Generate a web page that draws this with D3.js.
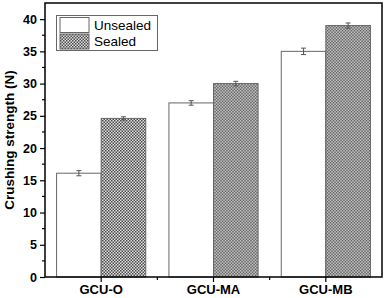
<!DOCTYPE html>
<html>
<head>
<meta charset="utf-8">
<script src="https://cdn.jsdelivr.net/npm/d3@7"></script>
<style>
  body { margin: 0; background: #fff; }
  svg { font-family: "Liberation Sans", Arial, sans-serif; }
</style>
</head>
<body>
<svg id="chart" width="387" height="298"></svg>
<script>
var categories = ["GCU-O", "GCU-MA", "GCU-MB"];
var seriesNames = ["Unsealed", "Sealed"];
var unsealed = [16.1, 27.0, 35.0];
var sealed = [24.6, 30.0, 39.0];
var unsealedErr = [0.4, 0.35, 0.5];
var sealedErr = [0.25, 0.35, 0.4];
var yTicks = [0, 5, 10, 15, 20, 25, 30, 35, 40];

var svg = d3.select("#chart");
var padding = { top: 3, right: 5, bottom: 21, left: 45 };
var width = +svg.attr("width");
var height = +svg.attr("height");

var rows = categories.map((c, i) => ({
  cat: c,
  values: [
    { key: "Unsealed", value: unsealed[i], err: unsealedErr[i] },
    { key: "Sealed", value: sealed[i], err: sealedErr[i] }
  ]
}));

// checker pattern for the sealed bars
var defs = svg.append("defs");
var pat = defs.append("pattern")
    .attr("id", "checker")
    .attr("width", 3)
    .attr("height", 3)
    .attr("patternUnits", "userSpaceOnUse");
pat.append("rect").attr("width", 3).attr("height", 3).attr("fill", "#dcdcdc");
pat.append("rect").attr("x", 0).attr("y", 0).attr("width", 1.5).attr("height", 1.5).attr("fill", "#4d4d4d");
pat.append("rect").attr("x", 1.5).attr("y", 1.5).attr("width", 1.5).attr("height", 1.5).attr("fill", "#4d4d4d");

var x0 = d3.scaleBand()
    .domain(categories)
    .range([padding.left, width - padding.right]);

var x1 = d3.scaleBand()
    .domain(seriesNames)
    .range([0, x0.bandwidth()])
    .paddingOuter(0.26)
    .paddingInner(0);

var yScale = d3.scaleLinear()
    .domain([0, 42.5])
    .range([height - padding.bottom, padding.top]);

var fills = { Unsealed: "#fff", Sealed: "url(#checker)" };

// bars
var groups = svg.selectAll(".group")
  .data(rows)
  .enter()
  .append("g")
    .attr("transform", d => "translate(" + x0(d.cat) + ",0)");

groups.selectAll("rect")
  .data(d => d.values)
  .enter()
  .append("rect")
    .attr("x", d => x1(d.key))
    .attr("y", d => yScale(d.value))
    .attr("width", x1.bandwidth())
    .attr("height", d => yScale(0) - yScale(d.value))
    .attr("fill", d => fills[d.key])
    .attr("stroke", "#666")
    .attr("stroke-width", 1);

// error bars
var eb = groups.selectAll(".err")
  .data(d => d.values)
  .enter()
  .append("g")
    .attr("stroke", "#555")
    .attr("stroke-width", 1);
eb.append("line")
    .attr("x1", d => x1(d.key) + x1.bandwidth() / 2)
    .attr("x2", d => x1(d.key) + x1.bandwidth() / 2)
    .attr("y1", d => yScale(d.value - d.err))
    .attr("y2", d => yScale(d.value + d.err));
[-1, 1].forEach(function(s) {
  eb.append("line")
      .attr("x1", d => x1(d.key) + x1.bandwidth() / 2 - 2.5)
      .attr("x2", d => x1(d.key) + x1.bandwidth() / 2 + 2.5)
      .attr("y1", d => yScale(d.value + s * d.err))
      .attr("y2", d => yScale(d.value + s * d.err));
});

// y axis
var yAxis = d3.axisLeft(yScale)
    .tickValues(yTicks)
    .tickSize(5)
    .tickPadding(3);
var gy = svg.append("g")
    .attr("transform", "translate(" + padding.left + ",0)")
    .call(yAxis);
gy.select(".domain").remove();
gy.selectAll("line").attr("stroke", "#000").attr("stroke-width", 1.2);
gy.selectAll("text")
    .attr("font-size", 12.5)
    .attr("font-weight", "bold")
    .attr("fill", "#000");

// minor y ticks
svg.append("g")
  .selectAll("line")
  .data(d3.range(2.5, 42.5, 5))
  .enter()
  .append("line")
    .attr("x1", padding.left - 3)
    .attr("x2", padding.left)
    .attr("y1", d => yScale(d))
    .attr("y2", d => yScale(d))
    .attr("stroke", "#000")
    .attr("stroke-width", 1.2);

// x axis
var xAxis = d3.axisBottom(x0)
    .tickSize(5)
    .tickPadding(3);
var gx = svg.append("g")
    .attr("transform", "translate(0," + (height - padding.bottom) + ")")
    .call(xAxis);
gx.select(".domain").remove();
gx.selectAll("line").attr("stroke", "#000").attr("stroke-width", 1.2);
gx.selectAll("text")
    .attr("font-size", 13)
    .attr("font-weight", "bold")
    .attr("fill", "#000");

// minor x ticks at group edges
svg.append("g")
  .selectAll("line")
  .data(categories.slice(1))
  .enter()
  .append("line")
    .attr("x1", d => x0(d))
    .attr("x2", d => x0(d))
    .attr("y1", height - padding.bottom)
    .attr("y2", height - padding.bottom + 3)
    .attr("stroke", "#000")
    .attr("stroke-width", 1.2);

// frame
svg.append("rect")
    .attr("x", padding.left)
    .attr("y", padding.top)
    .attr("width", width - padding.left - padding.right)
    .attr("height", height - padding.top - padding.bottom)
    .attr("fill", "none")
    .attr("stroke", "#000")
    .attr("stroke-width", 1.5);

// y axis label
svg.append("text")
    .attr("transform", "rotate(-90)")
    .attr("x", -140)
    .attr("y", 14)
    .style("text-anchor", "middle")
    .attr("font-size", 13.5)
    .attr("font-weight", "bold")
    .text("Crushing strength (N)");

// legend
var legend = svg.append("g");
legend.append("rect")
    .attr("x", 56.5)
    .attr("y", 15.5)
    .attr("width", 101)
    .attr("height", 35)
    .attr("fill", "#fff")
    .attr("stroke", "#666")
    .attr("stroke-width", 1);
var items = legend.selectAll(".item")
  .data(seriesNames)
  .enter()
  .append("g")
    .attr("transform", (d, i) => "translate(60," + (17.5 + i * 16.5) + ")");
items.append("rect")
    .attr("width", 29)
    .attr("height", 15)
    .attr("fill", d => fills[d])
    .attr("stroke", "#666")
    .attr("stroke-width", 1);
items.append("text")
    .attr("x", 34)
    .attr("y", 12)
    .attr("font-size", 13.5)
    .attr("fill", "#000")
    .text(d => d);
</script>
</body>
</html>
